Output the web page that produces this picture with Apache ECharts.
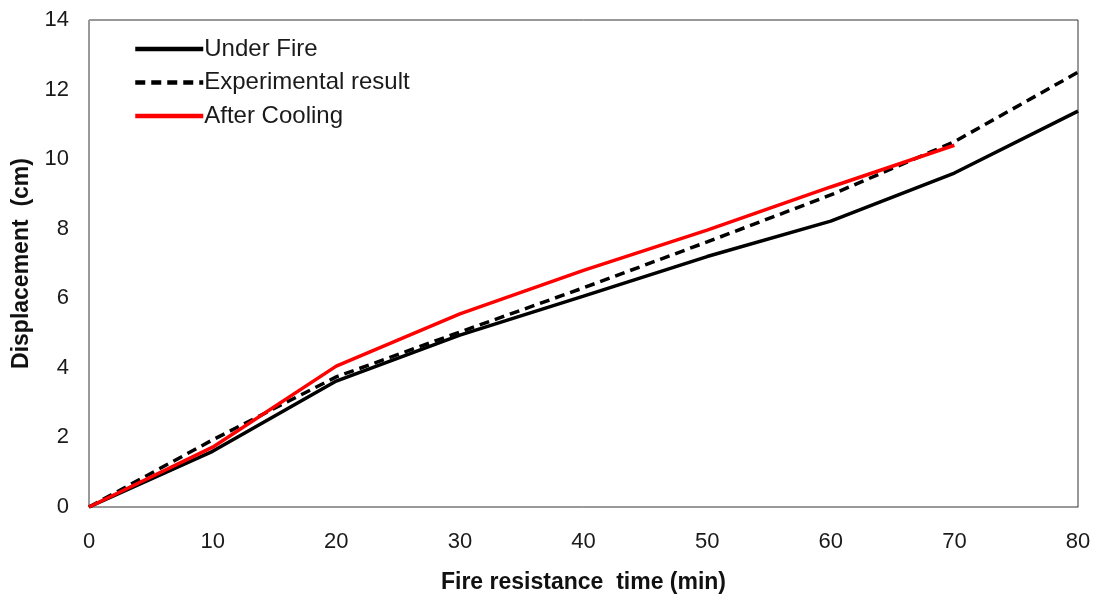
<!DOCTYPE html>
<html><head><meta charset="utf-8">
<script src="https://cdn.jsdelivr.net/npm/echarts@6/dist/echarts.min.js"></script>
<style>html,body{margin:0;padding:0;background:#fff}#c{width:1099px;height:597px}</style>
</head><body><div id="c"></div>
<script>
const times = [0, 10, 20, 30, 40, 50, 60, 70, 80];
const underFire = [0, 1.6, 3.62, 4.94, 6.06, 7.2, 8.22, 9.6, 11.38];
const experimental = [0, 1.93, 3.74, 5.03, 6.3, 7.62, 8.97, 10.5, 12.5];
const afterCooling = [0, 1.72, 4.05, 5.55, 6.8, 7.96, 9.2, 10.4];
const seriesNames = ['Under Fire', 'Experimental result', 'After Cooling'];

const pairs = (arr) => arr.map((v, i) => [times[i], v]);
const chart = echarts.init(document.getElementById('c'));
const FONT = '"Liberation Sans", Arial, sans-serif';
const tickFont = { fontFamily: FONT, fontSize: 22, color: '#1a1a1a' };
chart.setOption({
  animation: false,
  grid: { left: 89, right: 21, top: 20, bottom: 90, outerBoundsMode: 'none', containLabel: false, show: true, borderColor: '#333', borderWidth: 1 },
  legend: {
    orient: 'vertical', left: 128, top: 32, itemWidth: 68, itemHeight: 14, itemGap: 9.5,
    itemStyle: { opacity: 0 }, lineStyle: { width: 4.5 },
    textStyle: { fontFamily: FONT, fontSize: 24, color: '#1a1a1a', padding: [0, 0, 0, -4] },
    data: seriesNames
  },
  xAxis: {
    type: 'value', min: 0, max: 80, interval: 10,
    name: 'Fire resistance  time (min)', nameLocation: 'middle', nameGap: 64,
    nameTextStyle: { fontFamily: FONT, fontSize: 23, fontWeight: 'bold', color: '#111' },
    axisLine: { lineStyle: { color: '#999' } }, axisTick: { show: false },
    axisLabel: Object.assign({ margin: 24 }, tickFont), splitLine: { show: false }
  },
  yAxis: {
    type: 'value', min: 0, max: 14, interval: 2,
    name: 'Displacement  (cm)', nameLocation: 'middle', nameGap: 56,
    nameTextStyle: { fontFamily: FONT, fontSize: 23, fontWeight: 'bold', color: '#111' },
    axisLine: { show: true, lineStyle: { color: '#999' } }, axisTick: { show: false },
    axisLabel: Object.assign({ margin: 20 }, tickFont), splitLine: { show: false }
  },
  series: [
    { name: seriesNames[0], type: 'line', data: pairs(underFire), symbol: 'none', lineStyle: { color: '#000', width: 3.5 }, itemStyle: { color: '#000' } },
    { name: seriesNames[1], type: 'line', data: pairs(experimental), symbol: 'none', lineStyle: { color: '#000', width: 3.5, type: [10, 6] }, itemStyle: { color: '#000' } },
    { name: seriesNames[2], type: 'line', data: pairs(afterCooling), symbol: 'none', lineStyle: { color: '#ff0000', width: 3.5 }, itemStyle: { color: '#ff0000' } }
  ]
});
</script></body></html>
